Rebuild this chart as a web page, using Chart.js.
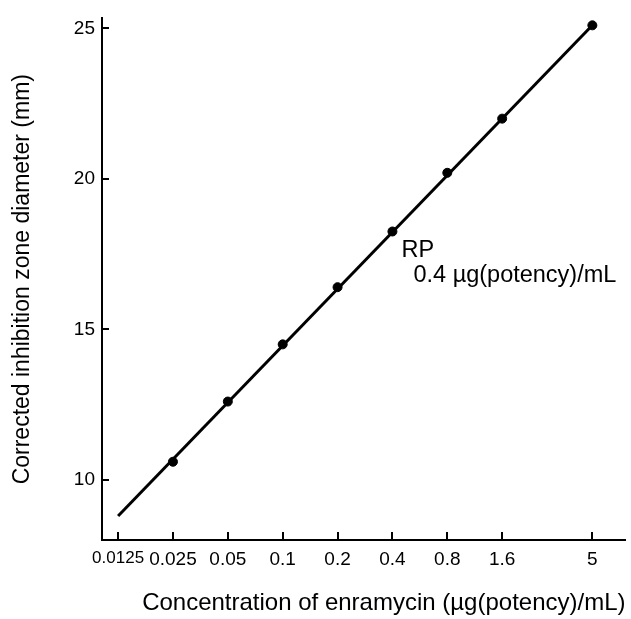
<!DOCTYPE html>
<html>
<head>
<meta charset="utf-8">
<script src="https://cdn.jsdelivr.net/npm/chart.js@4"></script>
<style>
html,body{margin:0;padding:0;background:#fff;}
#wrap{width:631px;height:619px;position:relative;}
</style>
</head>
<body>
<div id="wrap"><canvas id="c" width="631" height="619"></canvas></div>
<script>
// ---- data ----
const concentrations = [0.025, 0.05, 0.1, 0.2, 0.4, 0.8, 1.6, 5];
const diameters = [10.6, 12.6, 14.5, 16.4, 18.25, 20.2, 22.0, 25.1];
const fitX = [0.0125, 5];
const fitY = [8.8, 25.1];
const xTickValues = [0.0125, 0.025, 0.05, 0.1, 0.2, 0.4, 0.8, 1.6, 5];
const xTickLabels = ['0.0125', '0.025', '0.05', '0.1', '0.2', '0.4', '0.8', '1.6', '5'];
const yTickValues = [10, 15, 20, 25];
const annotationLines = ['RP', '0.4 µg(potency)/mL'];
const annotationAt = [0.4, 18.25];

const FONT = "'Liberation Sans', Arial, sans-serif";

const innerTicks = {
  id: 'innerTicks',
  afterDatasetsDraw(chart) {
    const {ctx, scales: {x, y}, chartArea} = chart;
    ctx.save();
    ctx.strokeStyle = '#000';
    ctx.lineWidth = 2;
    xTickValues.forEach(v => {
      const px = Math.round(x.getPixelForValue(v));
      ctx.beginPath();
      ctx.moveTo(px, chartArea.bottom);
      ctx.lineTo(px, chartArea.bottom - 8);
      ctx.stroke();
    });
    yTickValues.forEach(v => {
      const py = Math.round(y.getPixelForValue(v));
      ctx.beginPath();
      ctx.moveTo(chartArea.left, py);
      ctx.lineTo(chartArea.left + 7, py);
      ctx.stroke();
    });
    // annotation
    const ax = x.getPixelForValue(annotationAt[0]);
    const ay = y.getPixelForValue(annotationAt[1]);
    ctx.fillStyle = '#000';
    ctx.textBaseline = 'middle';
    ctx.textAlign = 'left';
    ctx.font = "23.5px " + FONT;
    ctx.fillText(annotationLines[0], ax + 9, ay + 19);
    ctx.fillText(annotationLines[1], ax + 21, ay + 44);
    ctx.restore();
  }
};

new Chart(document.getElementById('c'), {
  type: 'scatter',
  data: {
    datasets: [
      {
        type: 'line',
        data: fitX.map((v, i) => ({x: v, y: fitY[i]})),
        borderColor: '#000',
        borderWidth: 3,
        pointRadius: 0,
        fill: false
      },
      {
        data: concentrations.map((v, i) => ({x: v, y: diameters[i]})),
        backgroundColor: '#000',
        borderColor: '#000',
        pointRadius: 4.5,
        pointHoverRadius: 4.5
      }
    ]
  },
  options: {
    responsive: false,
    animation: false,
    events: [],
    layout: {padding: {left: 0, right: 0, top: 12, bottom: 0}},
    plugins: {legend: {display: false}, tooltip: {enabled: false}},
    scales: {
      x: {
        type: 'logarithmic',
        min: 0.0102,
        max: 7.6,
        bounds: 'data',
        grid: {display: false, drawTicks: false},
        border: {display: true, color: '#000', width: 2},
        afterBuildTicks(s) { s.ticks = xTickValues.map(v => ({value: v})); },
        afterFit(s) { s.height = 79; },
        ticks: {
          autoSkip: false,
          maxRotation: 0,
          padding: 8,
          color: '#000',
          callback(v, i) { return xTickLabels[i]; },
          font(ctx) {
            if (ctx.index === 0) return {size: 17, family: "'Liberation Sans Narrow', " + FONT};
            return {size: 19, family: FONT};
          }
        },
        title: {
          display: true,
          text: 'Concentration of enramycin (µg(potency)/mL)',
          color: '#000',
          align: 'end',
          font: {size: 24, family: FONT},
          padding: {top: 0, bottom: 1}
        }
      },
      y: {
        type: 'linear',
        min: 8,
        max: 25.33,
        grid: {display: false, drawTicks: false},
        border: {display: true, color: '#000', width: 2},
        afterBuildTicks(s) { s.ticks = yTickValues.map(v => ({value: v})); },
        afterFit(s) { s.width = 102; },
        ticks: {
          padding: 7,
          color: '#000',
          font: {size: 19, family: FONT}
        },
        title: {
          display: true,
          text: 'Corrected inhibition zone diameter (mm)',
          color: '#000',
          font: {size: 23, family: FONT},
          padding: {top: 9, bottom: 0}
        }
      }
    }
  },
  plugins: [innerTicks]
});
</script>
</body>
</html>
